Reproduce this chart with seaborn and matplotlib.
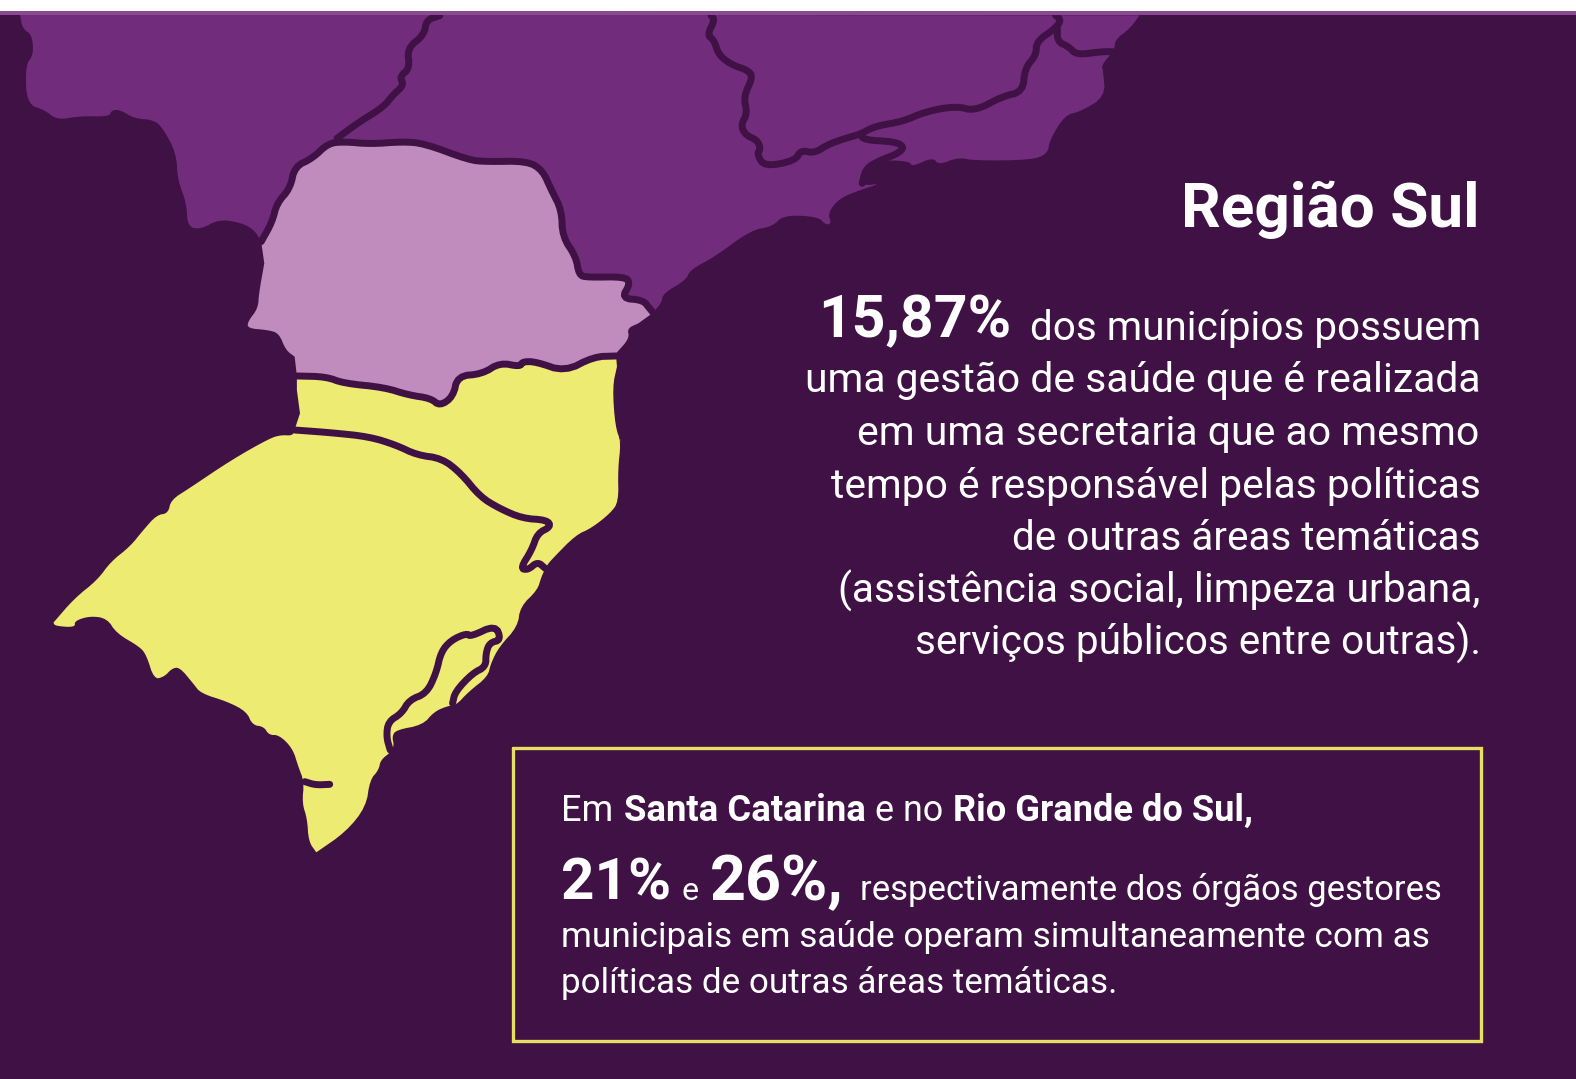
# Região Sul map panel with the text blocks on the right

import numpy as np
import matplotlib.pyplot as plt
import seaborn as sns

BG = "#3F1145"
PURPLE = "#722C7C"
PARANA = "#C08BBD"
YELLOW = "#EDEB72"
BOX = "#E6DF62"

# outlines, grouped by the crop they were read in
# crop A: x / 2.24, y / 3   crop B: 600 + x / 2.613, y / 3   crop C: 40 + x / 2.613, 420 + y / 3
west_edge_a = [(45, 44), (50, 85), (72, 105), (75, 165), (57, 195), (60, 312), (100, 330), (128, 360), (180, 348),
               (245, 350), (250, 330), (270, 330), (300, 355), (345, 360), (365, 385), (395, 460), (398, 540),
               (418, 610), (420, 680), (450, 688), (490, 658), (540, 668), (570, 690), (585, 725)]
coast_b = [(140, 935), (160, 910), (165, 880), (225, 840), (235, 810), (300, 770), (395, 690), (450, 680), (480, 645),
           (570, 650), (590, 675), (605, 670), (595, 640), (625, 595), (680, 570), (735, 550), (685, 558), (680, 520),
           (710, 490), (755, 480), (810, 485), (815, 500), (870, 472), (885, 495), (935, 472), (980, 482), (1130, 480),
           (1170, 460), (1175, 420), (1215, 345), (1255, 335), (1320, 290), (1315, 215), (1310, 195), (1345, 150),
           (1345, 120), (1385, 85), (1410, 46)]

pr_north_a = [(585, 725), (610, 665), (620, 610), (650, 565), (660, 500), (700, 475), (735, 430), (770, 425), (830, 432),
              (900, 425), (950, 430), (1050, 480), (1090, 485), (1180, 483), (1215, 510), (1235, 570), (1258, 630),
              (1260, 710), (1290, 770), (1297, 825), (1315, 832), (1400, 830), (1412, 850), (1392, 895), (1440, 900),
              (1455, 925), (1463, 938)]
pr_coast_a = [(1430, 970), (1405, 985), (1410, 1015), (1380, 1060)]
pr_south_a = [(1380, 1068), (1330, 1070), (1265, 1115), (1200, 1085), (1170, 1085), (1165, 1100), (1120, 1088),
              (1080, 1122), (1025, 1128), (1015, 1190), (985, 1218), (965, 1195), (915, 1185), (860, 1162), (770, 1150),
              (730, 1130), (665, 1128)]
pr_west_a = [(660, 1070), (640, 1050), (625, 1000), (600, 990), (555, 985), (555, 965), (578, 925), (580, 880),
             (592, 790)]

sc_east_a = [(1382, 1100), (1372, 1160), (1378, 1280), (1392, 1330)]
south_c = [(1505, 20), (1518, 65), (1510, 150), (1512, 245), (1490, 280), (1440, 325), (1400, 345), (1340, 415),
           (1325, 435), (1310, 470), (1300, 510), (1255, 560), (1248, 620), (1200, 680), (1178, 730), (1170, 770),
           (1120, 815), (1088, 855), (1065, 858), (1030, 875), (1000, 915), (930, 930), (920, 950), (925, 975),
           (918, 995), (890, 1020), (885, 1050), (862, 1080), (852, 1160), (800, 1235), (722, 1297), (722, 1297),
           (702, 1265), (698, 1195), (685, 1150), (690, 1085), (675, 1040), (660, 985), (625, 945), (598, 945),
           (585, 920), (555, 915), (540, 875), (490, 845), (420, 820), (400, 790), (365, 742), (345, 745), (325, 770),
           (298, 778), (278, 705), (260, 680), (200, 640), (175, 595), (130, 588), (90, 603), (92, 622), (40, 618),
           (35, 608), (35, 608), (90, 535), (150, 480), (185, 425), (235, 380), (270, 330), (305, 285), (335, 280),
           (342, 240), (390, 205), (500, 120), (600, 55), (630, 45), (660, 47), (665, 30)]
sc_west_a = [(672, 1240), (665, 1170)]

border_ms_sp_a = [(755, 415), (800, 370), (860, 320), (880, 285), (905, 255), (895, 230), (918, 205), (912, 145),
                  (950, 105), (955, 60), (985, 47)]
border_sp_mg_b = [(290, 46), (300, 60), (280, 105), (298, 120), (310, 165), (345, 195), (385, 210), (400, 230),
                  (375, 290), (385, 340), (368, 375), (380, 405), (410, 420), (420, 445), (410, 462), (430, 500),
                  (510, 482), (525, 450), (560, 460), (600, 430), (680, 402)]
border_mg_rj_b = [(680, 402), (720, 378), (790, 365), (850, 335), (930, 318), (980, 333), (1050, 290), (1105, 275),
                  (1110, 205), (1140, 165), (1140, 125), (1190, 85), (1205, 60), (1190, 46)]
border_sp_rj_b = [(680, 402), (690, 420), (770, 425), (795, 440), (780, 460), (730, 482), (695, 505), (685, 550)]
border_mg_es_b = [(1195, 80), (1195, 125), (1225, 140), (1245, 165), (1310, 155), (1340, 155)]
border_sc_rs_c = [(665, 30), (760, 38), (860, 50), (930, 75), (985, 105), (1050, 115), (1100, 160), (1150, 230),
                  (1200, 265), (1260, 295), (1325, 300), (1335, 320), (1300, 340), (1285, 390), (1255, 445), (1275, 450),
                  (1300, 425), (1320, 445)]
lagoon_c = [(915, 990), (905, 950), (910, 905), (945, 880), (965, 840), (1010, 820), (1035, 760), (1048, 695),
            (1075, 660), (1115, 640), (1125, 650), (1190, 615), (1205, 660), (1175, 668), (1165, 700), (1165, 740),
            (1130, 760), (1085, 815), (1078, 850)]
stub_c = [(692, 1085), (720, 1095), (757, 1093)]

title = "Região Sul"
big_share = "15,87%"
first_line = "dos municípios possuem"
body_lines = ["uma gestão de saúde que é realizada", "em uma secretaria que ao mesmo",
              "tempo é responsável pelas políticas", "de outras áreas temáticas",
              "(assistência social, limpeza urbana,", "serviços públicos entre outras)."]
body_left = [805, 857, 831, 1012, 838, 915]
body_base = [392, 445, 498, 550, 603, 655]


def round_corners(p):
    # corner cutting only softens the drawn outline, the traced vertices stay the source
    for _ in range(2):
        q = 0.75 * p[:-1] + 0.25 * p[1:]
        r = 0.25 * p[:-1] + 0.75 * p[1:]
        mid = np.empty((2 * len(q), 2))
        mid[0::2] = q
        mid[1::2] = r
        p = np.vstack([p[0], mid, p[-1]])
    return p


def crop_a(pts):
    p = np.array(pts, dtype=float)
    return round_corners(np.c_[p[:, 0] / 2.24, p[:, 1] / 3])


def crop_b(pts):
    p = np.array(pts, dtype=float)
    return round_corners(np.c_[600 + p[:, 0] / 2.613, p[:, 1] / 3])


def crop_c(pts):
    p = np.array(pts, dtype=float)
    return round_corners(np.c_[40 + p[:, 0] / 2.613, 420 + p[:, 1] / 3])


sns.set_theme(style="white")
plt.rcParams["font.family"] = ["Roboto", "DejaVu Sans"]

fig, ax = plt.subplots(figsize=(15.76, 10.79), dpi=100, facecolor=BG)
ax.set_position([0, 0, 1, 1])
ax.set_facecolor(BG)

ax.axhspan(0, 11, color="white", lw=0, zorder=5)
ax.axhspan(11, 15, color="#8A4A92", lw=0, zorder=5)

# filled regions
others = np.vstack([crop_a(west_edge_a), crop_a(pr_north_a), crop_b(coast_b)])
parana = np.vstack([crop_a(pr_north_a), crop_a(pr_coast_a), crop_a(pr_south_a), crop_a(pr_west_a)])
south = np.vstack([crop_a(pr_south_a)[::-1], crop_a(sc_east_a), crop_c(south_c), crop_a(sc_west_a)])
ax.fill(others[:, 0], others[:, 1], color=PURPLE, lw=0)
ax.fill(parana[:, 0], parana[:, 1], color=PARANA, lw=0)
ax.fill(south[:, 0], south[:, 1], color=YELLOW, lw=0)

# borders on top
borders = [crop_a(pr_north_a), crop_a(pr_south_a), crop_a(border_ms_sp_a), crop_b(border_sp_mg_b),
           crop_b(border_mg_rj_b), crop_b(border_sp_rj_b), crop_b(border_mg_es_b), crop_c(border_sc_rs_c),
           crop_c(lagoon_c), crop_c(stub_c)]
for line in borders:
    sns.lineplot(x=line[:, 0], y=line[:, 1], sort=False, estimator=None, color=BG, linewidth=5,
                 solid_joinstyle="round", solid_capstyle="round", ax=ax, legend=False)

ax.set_xlim(0, 1576)
ax.set_ylim(1079, 0)
ax.axis("off")

renderer = fig.canvas.get_renderer()


def run(text, x0, x1, base, weight="normal"):
    # place a run of text so it spans x0..x1 on the given baseline
    t = ax.text(x0, base, text, color="white", fontsize=20, fontweight=weight, ha="left", va="baseline")
    w = t.get_window_extent(renderer).width
    t.set_fontsize(20 * (x1 - x0) / w)
    return t


run(title, 1181, 1479, 227, "bold")
run(big_share, 818, 1011, 337, "bold")
run(first_line, 1030, 1479, 340)
for txt, left, base in zip(body_lines, body_left, body_base):
    run(txt, left, 1479, base)

# framed note
ax.plot([513, 1481, 1481, 513, 513], [748, 748, 1041, 1041, 748], color=BOX, lw=2.4, solid_joinstyle="miter")
run("Em", 561, 613, 821)
run("Santa Catarina", 624, 865, 821, "bold")
run("e no", 875, 943, 821)
run("Rio Grande do Sul,", 953, 1252, 821, "bold")
run("21%", 561, 671, 900, "bold")
run("e", 682, 699, 900)
run("26%,", 710, 844, 900, "bold")
run("respectivamente dos órgãos gestores", 860, 1441, 900)
run("municipais em saúde operam simultaneamente com as", 561, 1428, 947)
run("políticas de outras áreas temáticas.", 561, 1115, 993)

fig.savefig("out.png", dpi=100, facecolor=BG)
